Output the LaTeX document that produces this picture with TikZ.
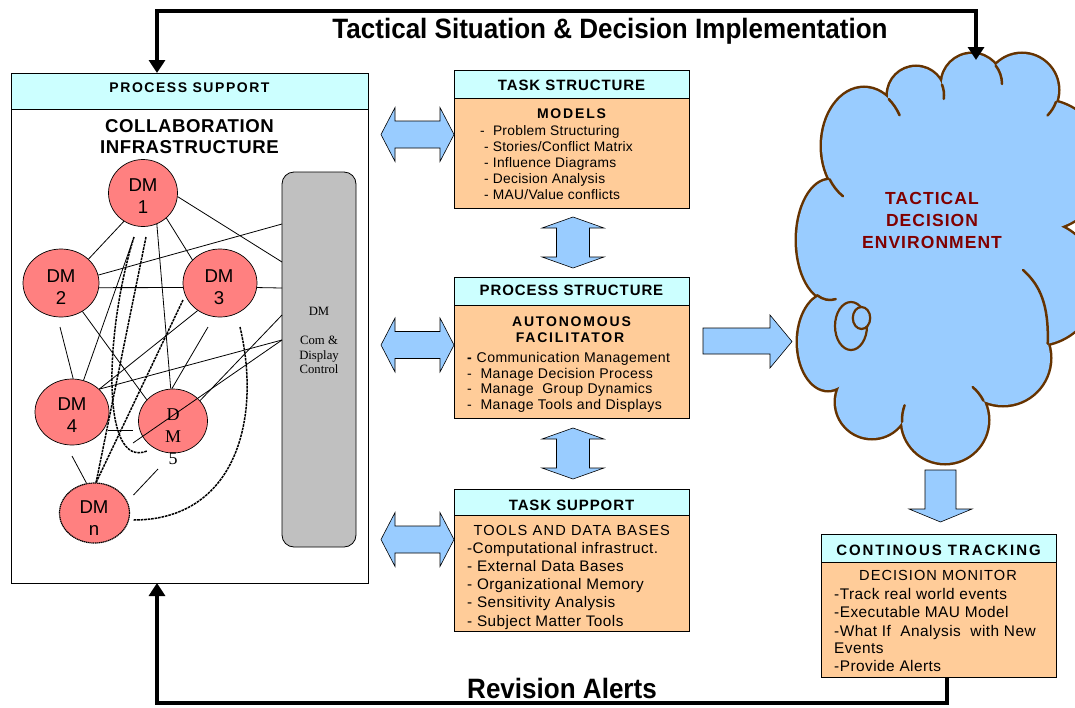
\documentclass[tikz,border=0pt]{standalone}
\usepackage{fontspec}
\setmainfont{Liberation Sans}
\newfontfamily\serifface{Liberation Serif}
\usetikzlibrary{shapes.geometric,arrows.meta,calc}

\definecolor{hdrcyan}{HTML}{CCFFFF}
\definecolor{bodyorange}{HTML}{FFCC99}
\definecolor{arrowblue}{HTML}{99CCFF}
\definecolor{cloudblue}{HTML}{99CCFF}
\definecolor{cloudbrown}{HTML}{663300}
\definecolor{dmred}{HTML}{FF8080}
\definecolor{bargray}{HTML}{C0C0C0}
\definecolor{envred}{HTML}{800000}

\newcommand\fsz[2]{\fontsize{#1}{#2}\selectfont}
\newcommand\lsp[1]{\addfontfeature{LetterSpace=#1}}

\tikzset{
  frame/.style={draw, line width=0.8pt, anchor=north west, inner sep=0pt, outer sep=0pt},
  headbox/.style={frame, fill=hdrcyan},
  bodybox/.style={frame, fill=bodyorange},
  headtxt/.style={inner sep=0pt, anchor=mid, font=\bfseries\fsz{15}{17}\lsp{6}},
  subtxt/.style={inner sep=0pt, anchor=mid, font=\bfseries\fsz{14}{16}\lsp{13}},
  itemtxt/.style={inner sep=0pt, anchor=mid west, font=\fsz{14.6}{16.5}\lsp{3}},
  itemmodel/.style={itemtxt, font=\fsz{13.8}{16.5}\lsp{2}},
  itemproc/.style={itemtxt, font=\fsz{14.1}{16.5}\lsp{3}},
  itemtool/.style={itemtxt, font=\fsz{15.3}{16.5}\lsp{3}},
  itemtrack/.style={itemtxt, font=\fsz{15.4}{16.5}\lsp{3}},
  plaintxt/.style={inner sep=0pt, anchor=mid, font=\fsz{14.6}{16.5}\lsp{8}},
  dmnode/.style={ellipse, draw, line width=0.7pt, fill=dmred, inner sep=0pt},
  dmlabel/.style={inner sep=0pt, align=center, font=\fsz{18.6}{22}},
  bartxt/.style={inner sep=0pt, anchor=mid, font=\serifface\fsz{12.7}{14}},
  netline/.style={line width=0.8pt},
  netdash/.style={line width=1.5pt, dash pattern=on 2.6pt off 0.9pt},
  blockarrow/.style={draw, line width=0.6pt, fill=arrowblue, line join=miter},
  bigconn/.style={line width=4pt, line join=miter},
  cloudline/.style={draw=cloudbrown, line width=2.5pt, line cap=round},
  puffs/.style={insert path={
    (864,146) ellipse [x radius=42, y radius=58]
    (916,95) circle [radius=28]
    (972,84) circle [radius=30]
    (1022,90) circle [radius=36]
    (1040,165) circle [radius=65]
    (1035,283) circle [radius=62]
    (1003,358) circle [radius=47]
    (945,420) circle [radius=43]
    (872,402) circle [radius=36]
    (828,342) ellipse [x radius=30, y radius=48]
    (830,240) ellipse [x radius=33, y radius=60]}},
  >={Triangle[length=13pt,width=16pt]}
}

\begin{document}
\begin{tikzpicture}[x=1pt,y=-1pt]
\path[use as bounding box, fill=white] (0,0) rectangle (1075,707);

% ---------------- cloud: tactical decision environment ----------------
\begin{scope}
\clip (0,0) rectangle (1075,707);
% outline of the union of the puffs: wide stroke, then fills on top
\draw[cloudbrown, line width=5pt, puffs];
\fill[cloudblue, puffs];
\fill[cloudblue] (864,146) -- (916,95) -- (972,84) -- (1022,90) -- (1040,165) -- (1035,283)
  -- (1003,358) -- (945,420) -- (872,402) -- (828,342) -- (830,240) -- cycle;
% inner ends of the puffs
\draw[cloudline] (864,146) ++(-54:42 and 58) arc[start angle=-54, end angle=-32, x radius=42, y radius=58];
\draw[cloudline] (916,95) ++(-22:28) arc[start angle=-22, end angle=8, radius=28];
\draw[cloudline] (972,84) ++(-38:30) arc[start angle=-38, end angle=0, radius=30];
\draw[cloudline] (1022,90) ++(19.4:36) arc[start angle=19.4, end angle=45, radius=36];
\draw[cloudline] (1047.7,343.7) .. controls (1049,305) and (1040,285) .. (1023,270);
\draw[cloudline] (945,420) ++(-26.7:43) arc[start angle=-26.7, end angle=-50, radius=43];
\draw[cloudline] (945,420) ++(177.6:43) arc[start angle=177.6, end angle=200, radius=43];
\draw[cloudline] (830,240) ++(113:33 and 60) arc[start angle=113, end angle=80, x radius=33, y radius=60];
\draw[cloudline] (864,146) ++(145:42 and 58) arc[start angle=145, end angle=120, x radius=42, y radius=58];
\filldraw[fill=cloudblue, cloudline, line width=2.2pt] (851,326) ellipse [x radius=16, y radius=24];
\filldraw[fill=cloudblue, cloudline, line width=2.2pt] (861.5,318) ellipse [x radius=8.7, y radius=11];
\end{scope}
\coordinate (cloudtop) at (976,60);
\node[inner sep=0pt, align=center, text=envred, font=\bfseries\fsz{17.5}{22}\lsp{6}] (envtxt) at (932,220) {TACTICAL\\DECISION\\ENVIRONMENT};

% ---------------- process support panel ----------------
\node[frame, fill=white, minimum width=357, minimum height=510] (psbox) at (11,73) {};
\node[headbox, minimum width=357, minimum height=36] (pshead) at (11,73) {};
\node[headtxt, font=\bfseries\fsz{14}{16}\lsp{11}] (pstitle) at (189.5,89.5) {PROCESS SUPPORT};
\node[inner sep=0pt, align=center, font=\bfseries\fsz{18.6}{21}\lsp{3}] (collab) at (189.5,137) {COLLABORATION\\INFRASTRUCTURE};

% communication and display bar
\node[frame, fill=bargray, rounded corners=12pt, minimum width=74, minimum height=375] (dmbar) at (282,172) {};
\node[bartxt] (bar1) at (319,313) {DM};
\node[bartxt] (bar2) at (319,342) {Com \&};
\node[bartxt] (bar3) at (319,357) {Display};
\node[bartxt] (bar4) at (319,371) {Control};

% decision makers
\node[dmnode, minimum width=69, minimum height=67] (dm1) at (143,193) {};
\node[dmnode, minimum width=76, minimum height=68] (dm2) at (61,283) {};
\node[dmnode, minimum width=74, minimum height=68] (dm3) at (220,283) {};
\node[dmnode, minimum width=74, minimum height=66] (dm4) at (72,412) {};
\node[dmnode, minimum width=69, minimum height=64] (dm5) at (173,421) {};
\node[dmnode, minimum width=70, minimum height=60, line width=1.2pt, dash pattern=on 1.3pt off 0.6pt] (dmn) at (94.5,513) {};
\node[dmlabel] (dm1t) at (143,196) {DM\\1};
\node[dmlabel] (dm2t) at (61,287) {DM\\2};
\node[dmlabel] (dm3t) at (219,287) {DM\\3};
\node[dmlabel] (dm4t) at (72,415.5) {DM\\4};
\node[dmlabel] (dmnt) at (94,518) {DM\\n};
\node[inner sep=0pt, align=center, font=\serifface\fsz{18}{22}] (dm5t) at (173,437) {D\\M\\5};

% links between decision makers and the bar
\draw[netline] (dm1.-6) -- ($(dmbar.north west)+(0,90)$);
\draw[netline] (dm2.12) -- ($(dmbar.north west)+(0,52)$);
\draw[netline] (dm2.-7) -- (dm3.187);
\draw[netline] (dm3.-7) -- ($(dmbar.north west)+(0,116)$);
\draw[netline] (dm1.-124) -- (dm2.41);
\draw[netline] (dm1.-47) -- (dm3.140);
\draw[netline] (dm1.-66) -- (dm5.94);
\draw[netline] ($(dm2)+(-1,44)$) -- (dm4.88);
\draw[netline] (dm4.70) -- ($(dm1)+(-9,44)$);
\draw[netline] (dm2.-53) -- (dm5.141);
\draw[netline] (dm3.-129) -- (dm4.40);
\draw[netline] ($(dm3)+(-12,44)$) -- (dm5.92);
\draw[netline] ($(dmbar.north west)+(0,168)$) -- (dm4.40);
\draw[netline] ($(dmbar.north west)+(0,143)$) -- (dm5.37);
\draw[netline] ($(dmbar.north west)+(0,168)$) -- ($(dm5)+(-40,22)$);
\draw[netline] ($(dm4)+(36,18)$) -- ($(dm4)+(61,18)$);
\draw[netline] ($(dm4)+(0,44)$) -- (dmn.105);
\draw[netline] ($(dm5)+(-15,48)$) -- ($(dmn)+(39,-18)$);
\draw[netdash] ($(dm1)+(3,44)$) -- (dmn.87);
\draw[netdash] ($(dm3)+(-37,17)$) -- (dmn.87);
\draw[netdash] ($(dm1)+(-9,44)$) .. controls (105,330) and (100,470) .. ($(dm5)+(-26,30)$);
\draw[netdash] ($(dm3)+(20,44)$) .. controls (262,420) and (235,520) .. ($(dmn)+(39,7)$);

% ---------------- centre column ----------------
\node[bodybox, minimum width=235, minimum height=138] (tsbox) at (454,70) {};
\node[headbox, minimum width=235, minimum height=28] (tshead) at (454,70) {};
\node[headtxt] (tstitle) at (571.5,87.5) {TASK STRUCTURE};
\node[subtxt] (tssub) at (571.5,115.5) {MODELS};
\node[itemmodel] (ts1) at (480,132.5) {-\ \ Problem Structuring};
\node[itemmodel] (ts2) at (484,149) {- Stories/Conflict Matrix};
\node[itemmodel] (ts3) at (484,165) {- Influence Diagrams};
\node[itemmodel] (ts4) at (484,181) {- Decision Analysis};
\node[itemmodel] (ts5) at (484,197) {- MAU/Value conflicts};

\node[bodybox, minimum width=235, minimum height=141] (prbox) at (454,277) {};
\node[headbox, minimum width=235, minimum height=28] (prhead) at (454,277) {};
\node[headtxt] (prtitle) at (571.5,292.5) {PROCESS STRUCTURE};
\node[subtxt] (prsub1) at (571.5,323.5) {AUTONOMOUS};
\node[subtxt] (prsub2) at (570,339.5) {FACILITATOR};
\node[itemproc] (pr1) at (467,359.5) {\textbf{-} Communication Management};
\node[itemproc] (pr2) at (467,375.5) {-\ \ Manage Decision Process};
\node[itemproc] (pr3) at (467,391) {-\ \ Manage\ \ Group Dynamics};
\node[itemproc] (pr4) at (467,407) {-\ \ Manage Tools and Displays};

\node[bodybox, minimum width=235, minimum height=142] (spbox) at (454,489) {};
\node[headbox, minimum width=235, minimum height=26] (sphead) at (454,489) {};
\node[headtxt] (sptitle) at (571.5,507.5) {TASK SUPPORT};
\node[plaintxt] (spsub) at (571.7,532.5) {TOOLS AND DATA BASES};
\node[itemtool] (sp1) at (467,550.5) {-Computational infrastruct.};
\node[itemtool] (sp2) at (467,568.5) {- External Data Bases};
\node[itemtool] (sp3) at (467,586.5) {- Organizational Memory};
\node[itemtool] (sp4) at (467,604.5) {- Sensitivity Analysis};
\node[itemtool] (sp5) at (467,623.5) {- Subject Matter Tools};

% ---------------- continuous tracking ----------------
\node[bodybox, minimum width=235, minimum height=143] (ctbox) at (821,534) {};
\node[headbox, minimum width=235, minimum height=28] (cthead) at (821,534) {};
\node[headtxt, font=\bfseries\fsz{15}{17}\lsp{13}] (cttitle) at (938.5,552.5) {CONTINOUS TRACKING};
\node[plaintxt, font=\fsz{14.6}{16.5}\lsp{7}] (ctsub) at (938,577.5) {DECISION MONITOR};
\node[itemtrack] (ct1) at (834,596.5) {-Track real world events};
\node[itemtrack] (ct2) at (834,614.5) {-Executable MAU Model};
\node[itemtrack] (ct3) at (834,633.5) {-What If\ \ Analysis\ \ with New};
\node[itemtrack] (ct4) at (834,650.5) {Events};
\node[itemtrack] (ct5) at (834,668.5) {-Provide Alerts};

% ---------------- block arrows ----------------
\foreach \cy in {134.5,345,539.5}
  \draw[blockarrow] (381,\cy) -- ++(14,-27) -- ++(0,13.5) -- ++(45,0) -- ++(0,-13.5)
    -- ++(14,27) -- ++(-14,27) -- ++(0,-13.5) -- ++(-45,0) -- ++(0,13.5) -- cycle;
\foreach \ty in {217,428}
  \draw[blockarrow] (573,\ty) -- ++(31,11) -- ++(-14.5,0) -- ++(0,29) -- ++(14.5,0)
    -- ++(-31,11) -- ++(-31,-11) -- ++(14.5,0) -- ++(0,-29) -- ++(-14.5,0) -- cycle;
\draw[blockarrow] (703,328) -- (770,328) -- (770,315) -- (792,341.5) -- (770,368) -- (770,354) -- (703,354) -- cycle;
\draw[blockarrow] (925,470) -- (956,470) -- (956,509) -- (972,509) -- (940.5,522) -- (909,509) -- (925,509) -- cycle;

% ---------------- feedback loops ----------------
\draw[bigconn, <->] ($(psbox.north west)+(146,0)$) -- (157,11) -- (976,11) -- (cloudtop);
\draw[bigconn, ->] ($(ctbox.south west)+(126,0)$) -- (947,703) -- (157,703) -- ($(psbox.south west)+(146,0)$);
\node[anchor=base, inner sep=0pt, font=\bfseries\fsz{28}{30}\addfontfeature{FakeStretch=0.93}] (looptop) at (610,38) {Tactical Situation \& Decision Implementation};
\node[anchor=base, inner sep=0pt, font=\bfseries\fsz{28}{30}\addfontfeature{FakeStretch=0.93}] (loopbot) at (562,698) {Revision Alerts};
\end{tikzpicture}
\end{document}
